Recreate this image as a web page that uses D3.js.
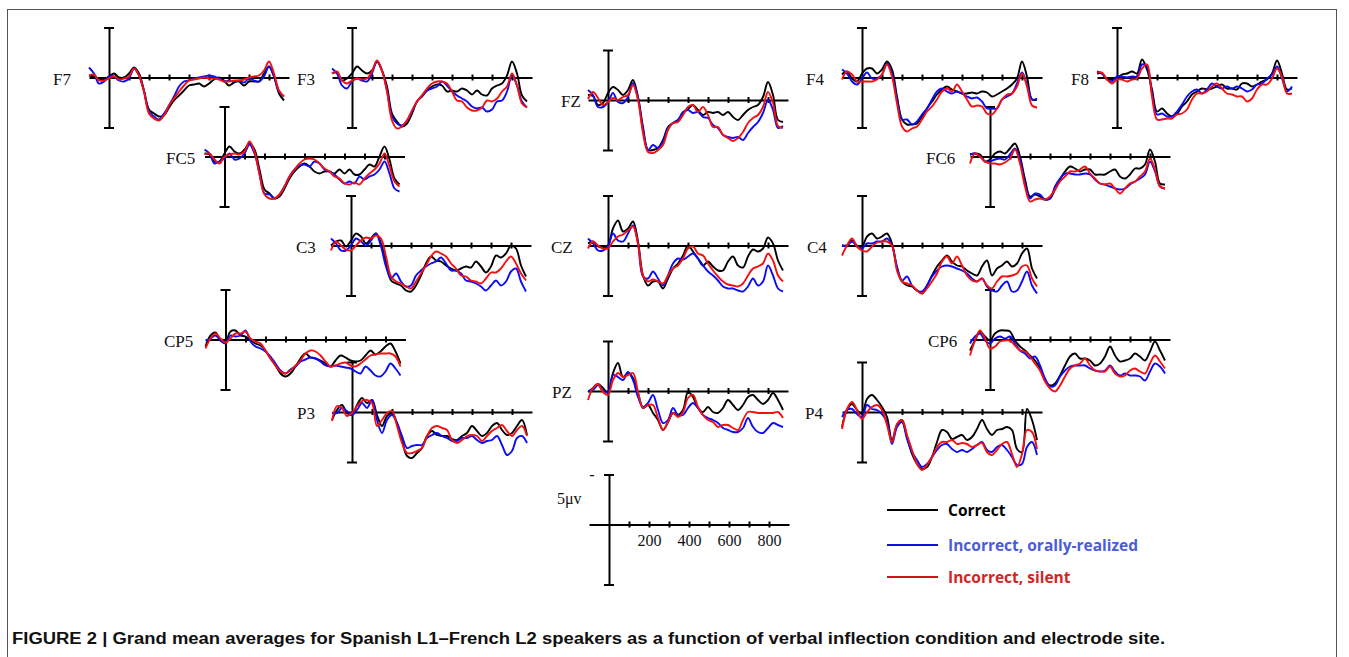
<!DOCTYPE html>
<html>
<head>
<meta charset="utf-8">
<title>Grand mean averages</title>
<script src="https://d3js.org/d3.v7.min.js"></script>
<style>
  body { margin: 0; background: #fff; }
  .axis path, .axis line { stroke: #000; stroke-width: 2px; }
  .site { font-family: "Liberation Serif", "Times New Roman", serif; font-size: 17px; fill: #111; }
  .scale text { font-family: "Liberation Serif", "Times New Roman", serif; font-size: 16px; fill: #111; }
  .legend text { font-family: "Open Sans", sans-serif; font-size: 15.5px; font-weight: 700; }
  .caption { font-family: "Liberation Sans", Arial, sans-serif; font-size: 16px; font-weight: 700; fill: #111; }
</style>
</head>
<body>
<div id="home"></div>
<script>
// sampling grid in ms (one sample every 25 ms)
const times = d3.range(-100, 900, 25);
const conditions = ["Correct", "Incorrect, orally-realized", "Incorrect, silent"];
const electrodes = ["F7", "F3", "FZ", "F4", "F8", "FC5", "FC6", "C3", "CZ", "C4", "CP5", "CP6", "P3", "PZ", "P4"];
const xTicks = [100, 200, 300, 400, 500, 600, 700, 800];
const xTickLabels = [200, 400, 600, 800];
const scaleLabel = "5\u03bcv";
const caption = "FIGURE 2 | Grand mean averages for Spanish L1\u2013French L2 speakers as a function of verbal inflection condition and electrode site.";

// amplitudes in microvolts (negative is plotted up)
const F7_correct = [-0.2,-0.1,0.1,0.2,-0.1,-0.4,0,0,-0.4,-1.0,-0.4,1.3,3.2,3.6,3.9,3.8,3.0,2.3,1.8,1.3,0.8,0.7,0.6,0.9,0.6,0.2,0,0.3,0.8,0.5,0.4,0.8,0.4,0.4,0.4,-0.4,-1.1,-0.1,1.6,2.3];
const F7_oral = [-1.0,-0.4,0.6,0.4,-0.1,-0.1,0.3,0.4,0.1,-0.9,-0.2,1.4,3.4,3.9,4.2,3.6,2.8,1.9,0.9,0.4,0.3,0.1,0,-0.1,-0.2,-0.1,0.1,0.4,0.3,0.4,0.3,0.5,0.1,0.3,0.4,-0.1,-1.1,-0.1,1.4,1.9];
const F7_silent = [-0.2,-0.3,0.3,0.3,0.1,-0.1,0.2,0.1,-0.1,-0.9,-0.2,1.4,3.6,4.1,4.3,3.8,2.8,2.1,1.4,0.8,0.3,0.2,0.1,0,0.1,0.1,0.2,0.4,0.4,0.3,0.3,0.2,0,-0.1,-0.2,-0.7,-1.6,-0.4,1.3,1.9];

const F3_correct = [-0.4,-0.5,0.3,0.1,-0.4,-1.1,-0.7,-0.4,-0.7,-1.6,-0.7,0.9,3.6,4.4,4.9,4.6,3.6,2.4,1.9,1.3,0.9,0.7,0.8,1.4,1.3,1.4,1.1,1.3,1.7,1.3,1.7,1.8,1.1,0.8,0.6,-0.2,-1.6,-0.4,1.8,2.4];
const F3_oral = [-0.9,-0.4,0.8,1.1,0.4,0.1,0.3,0.4,-0.4,-1.6,-0.7,1.3,3.9,4.6,4.8,4.3,3.4,2.4,1.8,1.3,1.1,0.9,0.4,0.8,1.4,1.8,2.1,2.4,2.9,3.1,3.0,3.4,3.2,2.4,2.3,1.4,-0.2,0.8,2.4,3.0];
const F3_silent = [-0.4,-0.6,0.3,0.6,0.3,0.1,0.2,0.1,-0.6,-1.7,-0.7,1.4,4.3,5.1,4.9,4.3,3.3,2.4,1.8,1.1,0.6,0.4,0.4,0.6,1.4,2.3,2.4,3.0,3.3,3.3,3.0,2.3,2.4,2.1,1.4,0.9,-0.4,0.8,2.6,3.0];

const FZ_correct = [-0.5,-0.4,0.5,0.3,-0.7,-1.3,-1.0,-0.5,-1.0,-2.0,-0.3,2.7,5.0,5.0,4.8,4.0,2.7,2.3,2.0,1.3,0.9,0.5,1.0,1.5,1.2,1.3,1.2,1.5,1.2,1.7,2.0,1.5,1.0,0.7,0.5,-0.3,-1.8,-0.5,2.0,2.2];
const FZ_oral = [-1.0,-0.5,0.7,0.7,0.2,-0.7,0.2,0.3,-0.3,-1.7,-0.2,3.0,5.0,4.5,4.8,4.2,2.8,2.3,2.0,1.2,1.0,1.3,1.2,1.7,1.8,2.5,2.8,3.5,3.7,3.8,3.7,4.0,3.3,2.7,2.2,1.3,0,1.0,2.8,2.6];
const FZ_silent = [-0.1,-0.8,-0.2,0.5,0.2,-0.2,0,-0.3,-0.5,-1.5,0,3.3,5.2,5.3,5.0,4.5,3.0,2.3,2.2,1.5,0.7,0.5,1.2,0.7,1.5,2.7,2.7,3.5,3.8,4.1,3.8,3.2,2.3,1.8,1.5,0.7,-0.8,0.3,2.6,2.8];

const F4_correct = [-0.3,-0.6,0.1,0.4,-0.4,-0.9,-0.9,-0.4,-0.8,-1.6,-0.8,1.9,4.2,4.7,4.7,4.6,3.9,3.1,2.4,1.7,1.2,0.9,1.2,1.4,1.6,1.6,1.5,1.6,1.4,1.5,1.9,1.7,1.4,1.1,0.7,0.1,-1.6,-0.1,2.2,2.2];
const F4_oral = [-0.8,-0.4,0.4,0.7,0.1,-0.5,0.1,0.1,-0.3,-1.4,-0.4,2.2,4.2,4.2,4.7,4.4,3.7,3.1,2.2,1.4,1.1,1.4,1.6,1.4,1.6,1.9,2.1,2.0,2.4,3.1,3.1,3.1,2.2,1.9,1.6,0.6,-0.5,0.7,2.2,2.1];
const F4_silent = [0.2,-0.6,-0.3,0.4,0.4,0.4,0.4,0.2,-0.3,-1.3,-0.1,2.6,4.9,5.4,5.1,4.9,4.2,3.4,2.9,2.2,1.4,1.1,1.4,0.7,1.4,2.2,2.9,2.8,2.9,3.6,3.7,3.1,2.2,1.7,1.6,0.9,-0.4,0.9,2.8,3.0];

const F8_correct = [-0.4,-0.4,0.2,0.2,0.1,-0.3,-0.4,-0.6,-0.4,-1.8,-0.8,1.2,3.4,3.1,3.6,3.9,3.6,2.9,2.4,1.7,1.4,1.1,1.2,1.1,0.9,0.7,1.1,1.1,1.2,0.6,0.6,0.9,0.7,0.4,0.2,-0.4,-1.7,-0.4,1.2,1.1];
const F8_oral = [-0.6,-0.4,0.2,0.4,-0.1,-0.1,0,-0.1,-0.1,-1.3,-1.1,1.6,3.7,3.6,3.9,3.9,3.4,2.7,1.9,1.4,1.2,1.6,1.2,0.6,0.9,1.1,0.9,1.1,0.9,1.1,1.4,1.2,0.7,0.6,0.1,-0.3,-1.1,0.1,1.4,0.9];
const F8_silent = [-0.5,-0.5,0.2,0.6,0.2,0.2,0.4,0.2,0.1,-0.9,-1.3,1.9,4.2,4.2,4.1,4.1,3.7,3.6,3.2,2.2,1.6,1.6,1.4,0.9,0.6,1.1,1.6,1.7,1.9,1.9,2.4,2.1,1.2,0.7,0.7,0.1,-0.9,-0.1,1.6,1.6];

const FC5_correct = [-0.3,-0.2,0.5,0.5,-0.3,-1.0,-0.5,-0.3,-0.7,-1.3,-0.7,1.3,3.3,3.7,4.2,4.0,3.2,2.2,1.5,1.0,0.7,1.0,1.5,1.7,1.5,1.5,1.7,1.3,1.7,1.3,1.8,1.8,1.3,0.8,1.0,0,-1.0,0.3,2.2,2.8];
const FC5_oral = [-0.7,-0.3,0.7,0.5,0.2,-0.3,0.3,0.2,-0.3,-1.2,-0.3,1.7,3.7,3.8,4.2,3.8,3.0,2.0,1.3,0.9,0.8,1.0,0.5,0.7,1.3,1.5,1.8,2.3,2.7,2.5,2.7,2.0,2.3,2.0,1.8,1.3,0.5,1.7,3.2,3.5];
const FC5_silent = [-0.2,-0.3,0.3,0.7,0,-0.2,-0.3,-0.2,-0.5,-1.5,-0.5,1.8,3.8,4.2,4.2,3.8,3.0,2.0,1.3,0.7,0.3,0.2,0.3,0.7,1.2,1.5,2.0,2.2,2.7,2.8,2.6,2.8,2.2,1.7,1.3,0.7,-0.3,1.0,2.5,3.0];

const FC6_correct = [-0.2,-0.3,-0.2,0.5,0.3,-0.3,-0.5,-0.3,-0.8,-1.3,0,2.3,4.0,3.8,4.0,4.3,4.2,3.3,2.3,1.5,1.0,1.2,1.5,1.3,1.3,1.8,1.8,1.8,1.5,1.3,2.0,2.2,1.8,1.2,1.2,0.8,-0.7,0.5,2.7,2.8];
const FC6_oral = [-0.2,-0.3,0,0.5,0.5,0.3,0.2,0.3,-0.2,-0.8,0.3,2.7,4.2,3.7,3.8,4.3,4.2,3.0,2.2,1.7,1.7,1.8,1.8,1.7,1.8,2.3,2.7,2.8,3.0,3.2,3.3,3.2,2.8,2.5,2.2,1.8,0.5,1.5,3.0,3.2];
const FC6_silent = [0.7,-0.3,0,0.5,0.7,0.7,0.8,0.6,0.2,-0.7,0.7,3.0,4.5,4.3,4.2,4.3,4.0,3.3,2.5,2.0,1.5,1.5,1.3,1.0,1.7,2.2,2.7,2.8,2.7,3.2,3.7,3.2,2.7,2.5,2.0,1.5,0.2,1.3,3.0,3.2];

const C3_correct = [0,-0.4,-0.5,0.1,-0.5,-1.2,-0.9,-0.2,-0.7,-1.2,-0.2,1.6,3.5,3.8,4.0,4.5,4.6,4.0,3.0,1.8,1.1,1.5,1.6,2.0,2.3,2.5,2.3,2.1,2.2,1.6,2.1,2.7,2.1,1.0,1.2,0.8,0,0.3,2.0,3.1];
const C3_oral = [-0.7,-0.2,0.5,0.5,0,-0.7,-0.4,0,-0.5,-1.2,0.1,2.1,3.3,2.8,3.6,4.1,4.0,3.0,2.5,2.1,1.8,1.6,1.2,1.8,2.5,2.5,2.8,3.5,3.6,3.8,4.1,4.5,4.0,3.5,4.0,3.6,2.6,2.3,3.6,4.6];
const C3_silent = [0.5,-0.4,0,0.4,0.5,0,-0.5,-0.8,-0.7,-1.0,-0.7,1.1,3.1,3.6,3.8,4.1,4.3,3.6,2.8,2.0,1.1,0.6,0.8,1.1,1.8,2.3,3.0,3.1,3.5,3.6,3.8,3.3,2.7,2.7,2.3,1.6,1.1,1.8,2.8,3.5];

const CZ_correct = [-0.2,-0.4,0.1,0.2,0,-1.7,-2.5,-1.4,-1.7,-2.4,-0.4,3.0,4.0,3.6,3.6,4.3,3.3,2.3,1.8,1.0,0,0.6,1.3,2.0,1.6,2.1,2.5,2.5,1.6,1.1,2.0,2.2,1.1,0.4,0.6,0.3,-0.8,-0.2,1.5,2.5];
const CZ_oral = [-0.7,-0.2,0.5,0.5,0.1,-1.2,-0.5,-0.4,-1.2,-2.0,-0.2,3.1,3.3,2.6,3.3,4.0,3.0,1.8,1.3,1.4,1.1,0.8,1.3,2.0,2.6,3.0,3.5,4.1,4.3,4.3,4.5,4.6,4.1,3.3,4.0,3.6,2.0,3.0,4.3,4.6];
const CZ_silent = [0.3,-0.4,0,0.3,0.3,-0.4,-0.9,-1.1,-1.5,-1.9,-0.2,3.0,3.6,3.4,3.6,3.8,3.0,2.3,2.0,1.3,0.3,0.1,0.8,1.0,1.8,2.5,3.1,3.6,3.9,4.0,4.1,3.8,3.0,2.3,2.1,1.8,0.8,1.5,3.0,3.6];

const C4_correct = [0,0,-0.5,0,0.1,-0.9,-1.2,-0.7,-0.9,-1.2,-0.2,2.3,3.6,4.0,4.1,4.5,4.8,4.0,3.0,2.1,1.5,1.0,1.6,2.0,2.1,2.5,2.8,3.0,2.1,1.5,3.0,2.3,2.0,1.6,2.1,1.8,0.8,0.3,2.3,3.3];
const C4_oral = [0,0,-0.4,0.1,0.3,-0.2,-0.2,-0.4,-0.4,-0.7,0,2.1,3.5,3.1,4.0,4.5,4.6,4.0,3.1,2.5,2.1,2.0,2.1,2.3,2.5,2.8,3.3,3.6,3.3,4.1,4.5,4.6,4.0,3.6,4.6,4.5,3.6,2.6,4.0,4.8];
const C4_silent = [1.0,0,-0.7,0.1,0.5,0.6,0.1,-0.3,-0.4,-0.4,0,2.5,3.6,3.8,4.0,4.5,4.8,4.3,3.6,2.8,1.6,1.1,1.8,1.1,2.0,3.0,3.5,3.6,3.3,4.0,4.3,3.6,3.1,3.1,3.0,2.8,2.1,2.0,3.3,4.1];

const CP5_correct = [0.7,-0.4,-0.7,0.1,0.2,-0.8,-0.9,-0.4,-0.3,0.1,0.4,0.6,1.1,1.9,2.6,3.4,3.7,3.4,2.7,1.9,1.4,1.8,1.9,2.1,2.4,2.7,2.1,1.6,1.8,2.1,2.2,2.1,1.6,1.1,1.5,1.2,0.7,0.4,1.2,2.4];
const CP5_oral = [0.1,-0.1,-0.4,0.1,0.4,-0.4,-0.3,-0.4,-0.9,0.2,0.7,0.9,1.2,1.7,2.4,3.1,3.4,3.0,2.7,2.2,2.0,1.8,1.9,2.2,2.6,2.7,2.6,2.7,2.8,2.9,3.2,3.4,2.7,3.1,3.6,3.7,3.2,2.4,2.9,3.6];
const CP5_silent = [0.9,-0.1,-0.6,-0.1,0.3,-0.1,-0.6,-0.6,-0.8,-0.1,0.2,0.4,1.1,1.9,2.6,3.2,3.4,3.1,2.6,2.1,1.4,1.1,1.2,1.6,2.2,2.7,2.6,2.4,2.3,2.6,2.7,2.4,2.0,1.6,1.5,1.4,1.4,1.4,1.7,2.7];

const CP6_correct = [1.1,0.1,-0.8,-0.3,0.1,-0.6,-0.9,-0.9,-0.8,0.1,0.7,1.1,1.6,2.1,2.9,4.1,4.6,4.4,3.6,2.6,1.7,1.4,1.9,1.9,2.1,2.6,2.4,1.7,0.7,1.6,2.2,2.1,1.9,1.4,1.7,2.1,1.2,0.2,1.1,2.1];
const CP6_oral = [0.4,-0.3,-0.6,0.1,0.4,-0.1,-0.3,-0.1,-0.3,0.4,1.1,1.4,1.9,1.7,2.6,3.9,4.7,4.6,3.7,3.1,2.7,2.6,2.6,2.6,2.9,3.1,3.2,3.1,2.6,3.2,3.6,3.4,3.6,3.6,3.7,4.1,3.2,2.4,2.7,3.4];
const CP6_silent = [1.6,0.1,-0.9,-0.1,0.9,0.7,0.2,0.1,0.1,0.6,1.1,1.2,1.7,2.4,3.1,4.2,4.9,5.2,4.6,3.7,2.9,2.6,2.4,1.9,2.6,3.1,3.2,3.2,2.7,3.4,3.7,3.6,3.1,2.9,3.2,3.4,2.4,1.6,2.2,2.9];

const P3_correct = [0.8,-0.2,-0.7,0.1,0.3,-0.7,-1.4,-0.9,-1.2,0.3,1.4,0.4,0.1,1.1,2.8,4.4,4.6,4.1,3.6,2.4,1.9,2.3,2.4,2.4,2.7,2.8,2.4,2.1,1.4,1.9,2.4,2.1,1.4,1.1,1.8,2.3,2.1,1.4,0.8,2.3];
const P3_oral = [0.1,0.1,-0.4,-0.1,0.3,-0.2,-0.9,-0.4,-1.2,0.8,2.1,0.8,0.3,1.1,2.4,3.6,3.4,3.3,3.3,2.6,2.3,2.1,2.4,2.6,2.9,2.9,2.6,2.6,2.4,2.8,3.1,2.9,2.8,2.4,3.3,4.3,3.9,2.6,2.4,3.1];
const P3_silent = [0.9,-0.6,-0.4,0.4,0.1,-0.6,-1.1,-1.2,-0.9,1.4,0.8,0.1,-0.1,1.4,3.1,4.1,4.1,3.9,3.6,2.4,1.6,1.4,1.6,1.8,2.8,3.1,2.8,2.4,2.3,2.4,2.9,2.4,1.9,1.6,1.3,1.9,2.4,1.8,1.4,2.4];

const PZ_correct = [0.1,-0.3,-0.7,-0.3,0.2,-1.8,-2.8,-1.4,-1.8,-1.3,0.2,1.7,1.4,2.2,2.9,3.9,3.1,2.2,2.4,1.9,0.1,0.6,1.7,2.1,1.6,2.1,2.2,1.7,0.9,1.4,1.9,1.4,0.6,0.4,0.9,1.3,0.9,0.2,0.9,1.9];
const PZ_oral = [0,-0.1,-0.6,0,0.1,-1.6,-1.4,-1.1,-1.9,-1.1,0.6,1.6,1.2,0.4,1.9,3.2,2.9,1.7,2.4,2.4,1.7,1.2,1.7,2.4,2.7,2.9,3.2,3.7,3.9,4.1,4.1,3.7,2.7,3.6,4.1,4.2,3.7,3.2,3.4,3.6];
const PZ_silent = [0.9,-0.3,-0.7,0.1,0.4,-1.1,-1.8,-1.4,-1.6,-1.8,0.1,1.7,1.4,1.4,2.7,3.9,3.1,2.2,2.6,2.1,0.7,0.4,1.6,2.4,2.9,3.1,3.6,3.4,3.4,3.7,3.9,2.9,2.1,2.1,2.2,2.2,2.2,2.2,2.1,2.7];

const P4_correct = [1.5,-0.2,-0.8,-0.2,0.2,-1.3,-1.7,-1.2,-0.5,0.5,2.8,1.3,0.8,2.5,4.2,5.2,5.7,5.5,4.5,3.0,1.8,2.0,2.7,2.5,2.3,2.8,2.5,1.7,0.8,1.7,2.3,1.8,1.7,1.5,1.8,3.7,4.0,-0.3,0.8,2.8];
const P4_oral = [0.5,-0.2,-0.3,0.2,0.5,-0.7,-0.3,-0.2,0.2,1.0,3.2,1.5,1.0,2.7,4.0,4.8,5.5,5.2,4.5,3.8,3.3,3.2,3.7,4.0,3.8,4.0,3.7,3.3,3.0,3.8,4.0,3.5,3.3,3.8,4.5,5.3,5.2,3.5,3.0,4.3];
const P4_silent = [1.7,-0.3,-1.0,-0.2,0.7,0,-0.5,-0.7,-0.2,1.3,3.0,1.2,0.8,2.3,3.8,5.2,5.8,5.3,4.5,3.5,3.0,3.0,2.8,3.2,3.1,3.2,3.5,3.3,3.1,4.0,4.3,3.8,3.2,3.0,4.2,5.5,4.2,1.8,2.0,3.7];

const waves = {
    F7: [F7_correct, F7_oral, F7_silent], F3: [F3_correct, F3_oral, F3_silent],
    FZ: [FZ_correct, FZ_oral, FZ_silent], F4: [F4_correct, F4_oral, F4_silent],
    F8: [F8_correct, F8_oral, F8_silent], FC5: [FC5_correct, FC5_oral, FC5_silent],
    FC6: [FC6_correct, FC6_oral, FC6_silent], C3: [C3_correct, C3_oral, C3_silent],
    CZ: [CZ_correct, CZ_oral, CZ_silent], C4: [C4_correct, C4_oral, C4_silent],
    CP5: [CP5_correct, CP5_oral, CP5_silent], CP6: [CP6_correct, CP6_oral, CP6_silent],
    P3: [P3_correct, P3_oral, P3_silent], PZ: [PZ_correct, PZ_oral, PZ_silent],
    P4: [P4_correct, P4_oral, P4_silent]
};

// where each little plot sits: origin x, origin y, label x
const layout = {
    F7: [109, 77.5, 53], F3: [352, 77.5, 297], FZ: [608, 100, 561], F4: [862, 77.5, 806], F8: [1117, 77.5, 1071],
    FC5: [224.5, 156.5, 166], FC6: [990, 156.5, 926],
    C3: [351, 245.5, 296], CZ: [608, 245.5, 551], C4: [862, 245.5, 807],
    CP5: [225.5, 339.5, 164], CP6: [990, 339.5, 928],
    P3: [352, 412, 297], PZ: [608, 391, 552], P4: [862, 412, 805]
};

const lineColors = ["#000000", "#0b0bf5", "#f51010"];
const keyColors = ["#000000", "#1010d8", "#c8141c"];
const textColors = ["#000000", "#4a5cd8", "#d42424"];

const w = 1349, h = 657;
const svg = d3.select("#home").append("svg").attr("width", w).attr("height", h);

// frame
svg.append("rect").attr("x", 7.5).attr("y", 9.5).attr("width", 1329).attr("height", 700)
   .attr("fill", "none").attr("stroke", "#555").attr("stroke-width", 1);

const x = d3.scaleLinear().domain([-100, 900]).range([-20, 180]);
const y = d3.scaleLinear().domain([-5, 5]).range([-50, 50]);

const line = d3.line()
    .x((d, i) => x(times[i]))
    .y(d => y(d))
    .curve(d3.curveCatmullRom);

function drawAxes(g, yScale, capValues) {
    g.append("g").attr("class", "axis")
     .call(d3.axisBottom(x).tickValues(xTicks).tickSizeOuter(0).tickFormat(""))
     .call(a => a.selectAll(".tick line").attr("y1", -3).attr("y2", 3));
    g.append("g").attr("class", "axis")
     .call(d3.axisLeft(yScale).tickValues(capValues).tickSizeOuter(0).tickFormat(""))
     .call(a => a.selectAll(".tick line").attr("x1", -5).attr("x2", 5));
}

// axes first, waves on top
electrodes.forEach(name => {
    const [cx, cy, lx] = layout[name];
    const g = svg.append("g").attr("transform", `translate(${cx},${cy})`);
    drawAxes(g, y, [-5, 5]);
    svg.append("text").attr("class", "site").attr("x", lx).attr("y", cy + 7).text(name);
});

electrodes.forEach(name => {
    const [cx, cy] = layout[name];
    const g = svg.append("g").attr("transform", `translate(${cx},${cy})`);
    g.selectAll("path.wave")
     .data(waves[name])
     .enter()
     .append("path")
     .attr("class", "wave")
     .attr("d", d => line(d))
     .attr("fill", "none")
     .attr("stroke", (d, i) => lineColors[i])
     .attr("stroke-width", 1.9)
     .attr("stroke-linejoin", "round");
});

// calibration plot
const ys = d3.scaleLinear().domain([-5, 6]).range([-50, 60]);
const sc = svg.append("g").attr("class", "scale").attr("transform", "translate(609,524.5)");
drawAxes(sc, ys, [-5, 6]);
sc.select("g.axis")
  .call(d3.axisBottom(x).tickValues(xTicks).tickSizeOuter(0)
        .tickFormat(d => xTickLabels.includes(d) ? d : ""))
  .call(a => a.selectAll(".tick line").attr("y1", -3).attr("y2", 3))
  .call(a => a.selectAll(".tick text").attr("y", 10).attr("fill", "#111")
        .style("font-family", "'Liberation Serif', serif").style("font-size", "16px"));
sc.append("text").attr("x", -17).attr("y", -45).attr("text-anchor", "middle").text("-");
sc.append("text").attr("x", -52).attr("y", -21).text(scaleLabel);

// legend
const legend = svg.append("g").attr("class", "legend");
const legendY = [510, 545, 577];
conditions.forEach((c, i) => {
    legend.append("line").attr("x1", 887).attr("x2", 938).attr("y1", legendY[i]).attr("y2", legendY[i])
          .attr("stroke", keyColors[i]).attr("stroke-width", 2);
    legend.append("text").attr("x", 948).attr("y", legendY[i] + 6)
          .attr("fill", textColors[i]).text(c);
});

svg.append("text").attr("class", "caption")
   .attr("x", 12).attr("y", 644)
   .attr("textLength", 1153).attr("lengthAdjust", "spacingAndGlyphs")
   .text(caption);
</script>
</body>
</html>
